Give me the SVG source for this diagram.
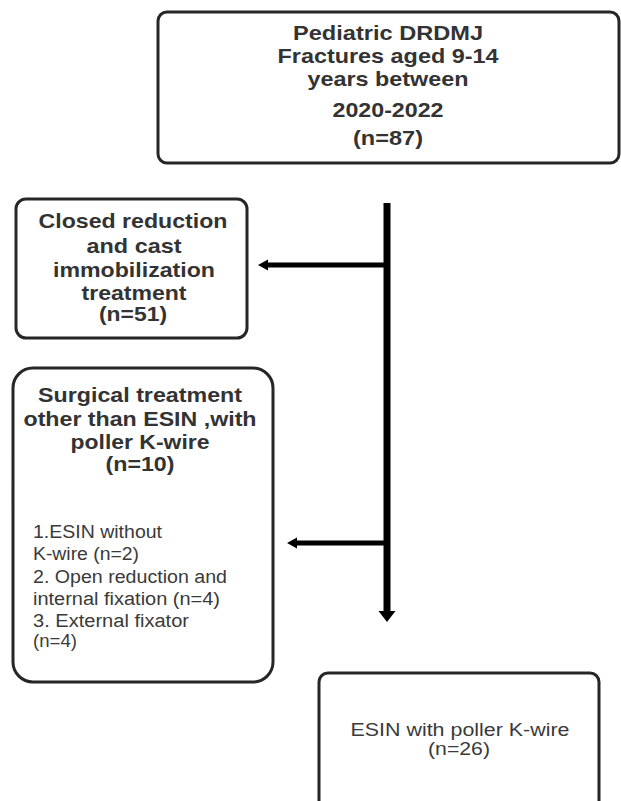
<svg xmlns="http://www.w3.org/2000/svg" width="621" height="801" viewBox="0 0 621 801">
<style>
.box{fill:#fff;stroke:#262626;stroke-width:3}
.b{font-family:"Liberation Sans",Arial,sans-serif;font-weight:bold;font-size:21px;fill:#333;text-anchor:middle}
.r{font-family:"Liberation Sans",Arial,sans-serif;font-size:18px;fill:#3a3a3a}
.c{text-anchor:middle}
.ln{stroke:#000;fill:none}
</style>
<defs>
<marker id="ah" markerUnits="userSpaceOnUse" markerWidth="11" markerHeight="12" refX="2" refY="6" orient="auto">
<path d="M0,0.5 L10,6 L0,11.5 Z" fill="#000"/>
</marker>
<marker id="ahv" markerUnits="userSpaceOnUse" markerWidth="12" markerHeight="18" refX="1" refY="9" orient="auto">
<path d="M0,0.5 L11,9 L0,17.5 Z" fill="#000"/>
</marker>
</defs>
<rect width="621" height="801" fill="#fff"/>
<g id="n-top">
<rect class="box" x="158" y="12" width="461" height="151" rx="9"/>
<text class="b" x="388" y="40" textLength="190" lengthAdjust="spacingAndGlyphs">Pediatric DRDMJ</text>
<text class="b" x="388" y="63" textLength="221" lengthAdjust="spacingAndGlyphs">Fractures aged 9-14</text>
<text class="b" x="388" y="86" textLength="161" lengthAdjust="spacingAndGlyphs">years between</text>
<text class="b" x="388" y="117" textLength="111" lengthAdjust="spacingAndGlyphs">2020-2022</text>
<text class="b" x="388" y="145" textLength="70" lengthAdjust="spacingAndGlyphs">(n=87)</text>
</g>
<g id="n-closed">
<rect class="box" x="16" y="199" width="231" height="139" rx="10"/>
<text class="b" x="133" y="228" textLength="189" lengthAdjust="spacingAndGlyphs">Closed reduction</text>
<text class="b" x="134" y="253" textLength="95" lengthAdjust="spacingAndGlyphs">and cast</text>
<text class="b" x="134" y="277" textLength="162" lengthAdjust="spacingAndGlyphs">immobilization</text>
<text class="b" x="134" y="300" textLength="105" lengthAdjust="spacingAndGlyphs">treatment</text>
<text class="b" x="133" y="321" textLength="68" lengthAdjust="spacingAndGlyphs">(n=51)</text>
</g>
<g id="n-surgical">
<rect class="box" x="13" y="368" width="260" height="314" rx="20"/>
<text class="b" x="140" y="402" textLength="204" lengthAdjust="spacingAndGlyphs">Surgical treatment</text>
<text class="b" x="140" y="426" textLength="233" lengthAdjust="spacingAndGlyphs">other than ESIN ,with</text>
<text class="b" x="140" y="449" textLength="139" lengthAdjust="spacingAndGlyphs">poller K-wire</text>
<text class="b" x="140" y="471" textLength="69" lengthAdjust="spacingAndGlyphs">(n=10)</text>
<text class="r" x="33" y="538" textLength="129" lengthAdjust="spacingAndGlyphs">1.ESIN without</text>
<text class="r" x="33" y="560" textLength="106" lengthAdjust="spacingAndGlyphs">K-wire (n=2)</text>
<text class="r" x="33" y="583" textLength="194" lengthAdjust="spacingAndGlyphs">2. Open reduction and</text>
<text class="r" x="33" y="605" textLength="187" lengthAdjust="spacingAndGlyphs">internal fixation (n=4)</text>
<text class="r" x="33" y="627" textLength="156" lengthAdjust="spacingAndGlyphs">3. External fixator</text>
<text class="r" x="33" y="647" textLength="44" lengthAdjust="spacingAndGlyphs">(n=4)</text>
</g>
<g id="n-esin">
<rect class="box" x="319" y="673" width="280" height="140" rx="9"/>
<text class="r c" x="460" y="736" textLength="219" lengthAdjust="spacingAndGlyphs">ESIN with poller K-wire</text>
<text class="r c" x="459" y="755" textLength="62" lengthAdjust="spacingAndGlyphs">(n=26)</text>
</g>
<g id="connectors">
<line class="ln" x1="387" y1="203" x2="387" y2="612" stroke-width="7" marker-end="url(#ahv)"/>
<line class="ln" x1="387" y1="265" x2="266" y2="265" stroke-width="5" marker-end="url(#ah)"/>
<line class="ln" x1="387" y1="543" x2="295" y2="543" stroke-width="5" marker-end="url(#ah)"/>
</g>
</svg>
